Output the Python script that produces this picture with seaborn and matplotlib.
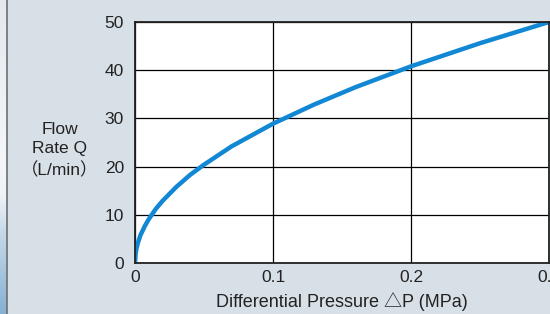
import numpy as np
import pandas as pd
import seaborn as sns
import matplotlib
matplotlib.use("Agg")
import matplotlib.pyplot as plt
from matplotlib.colors import LinearSegmentedColormap

# Data
pressure = [0, 0.0005, 0.001, 0.002, 0.004, 0.007, 0.01, 0.015, 0.02, 0.03, 0.04,
            0.05, 0.07, 0.1, 0.13, 0.16, 0.2, 0.25, 0.3]
flow = [0, 2.0, 2.9, 4.1, 5.8, 7.6, 9.1, 11.2, 12.9, 15.8, 18.3,
        20.4, 24.2, 28.9, 32.9, 36.5, 40.8, 45.6, 50.0]
x_ticks = [0, 0.1, 0.2, 0.3]
x_tick_labels = ["0", "0.1", "0.2", "0.3"]
y_ticks = [0, 10, 20, 30, 40, 50]

df = pd.DataFrame({"P": pressure, "Q": flow})

sns.set_style("white")
plt.rcParams['font.family'] = ['Liberation Sans', 'Noto Sans CJK JP', 'DejaVu Sans']

bg = "#d8e0e7"
txt = "#222222"
W, H = 550, 314
fig = plt.figure(figsize=(W / 100, H / 100), dpi=100, facecolor=bg)

# left decorative strip
strip = fig.add_axes([0, 0, 6 / W, 1])
cmap = LinearSegmentedColormap.from_list(
    "s", [(0, "#e4e9ee"), (0.5, "#f4f6f8"), (0.62, "#f0f3f6"), (0.75, "#c4d8e8"), (1.0, "#86b1d2")])
strip.imshow(np.linspace(0, 1, 200).reshape(-1, 1), aspect="auto", cmap=cmap, extent=[0, 1, 1, 0])
strip.set_axis_off()
fig.add_artist(plt.Line2D([6.5 / W, 6.5 / W], [0, 1], color="#6d6f72", lw=1.2, transform=fig.transFigure))

ax = fig.add_axes([135 / W, 51 / H, 414 / W, 241 / H])
ax.set_facecolor("white")
sns.lineplot(data=df, x="P", y="Q", ax=ax, color="#1288d4", lw=3.2, solid_capstyle="butt")

ax.set_xlim(0, 0.3)
ax.set_ylim(0, 50)
ax.set_xticks(x_ticks)
ax.set_xticklabels(x_tick_labels)
ax.set_yticks(y_ticks)
ax.grid(True, color="black", lw=0.9)
for s in ax.spines.values():
    s.set_color(txt)
    s.set_linewidth(1.3)
ax.tick_params(axis="y", length=0, labelsize=12.5, colors=txt, pad=8)
ax.tick_params(axis="x", length=0, labelsize=12.5, colors=txt, pad=5)
ax.set_xlabel("Differential Pressure \u25B3P (MPa)", fontsize=13, color=txt, labelpad=5)
ax.set_ylabel("")
fig.text(60 / W, 1 - 150 / H, "Flow\nRate Q\n\uFF08L/min\uFF09", ha="center", va="center",
         fontsize=12.5, color=txt, linespacing=1.4)

fig.savefig("out.png", dpi=100, facecolor=bg)
